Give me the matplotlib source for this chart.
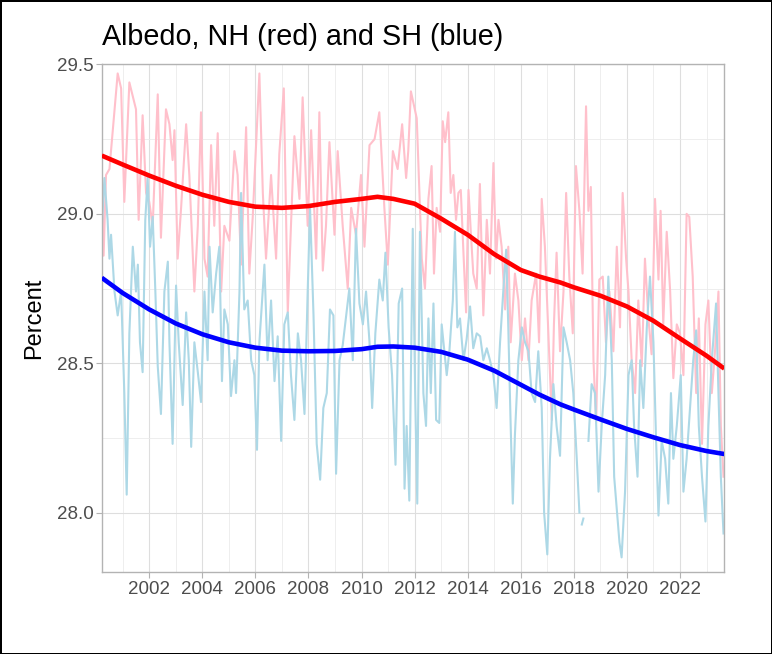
import numpy as np
import matplotlib
matplotlib.use("Agg")
import matplotlib.pyplot as plt
from matplotlib.ticker import MultipleLocator

plt.rcParams['font.family'] = ['Liberation Sans', 'DejaVu Sans']

# Northern hemisphere, noisy series (year, percent)
nh_year = [2000.21, 2000.28, 2000.37, 2000.50, 2000.81, 2000.94, 2001.06, 2001.25, 2001.50, 2001.60,
           2001.75, 2001.88, 2002.00, 2002.13, 2002.32, 2002.44, 2002.63, 2002.76, 2002.88, 2002.95,
           2003.07, 2003.20, 2003.39, 2003.51, 2003.70, 2003.83, 2003.95, 2004.08, 2004.20, 2004.33,
           2004.45, 2004.58, 2004.71, 2004.83, 2005.02, 2005.21, 2005.33, 2005.46, 2005.65, 2005.77,
           2005.90, 2006.15, 2006.28, 2006.40, 2006.59, 2006.78, 2006.90, 2007.07, 2007.22, 2007.34,
           2007.47, 2007.66, 2007.78, 2007.97, 2008.10, 2008.29, 2008.41, 2008.54, 2008.66, 2008.79,
           2008.98, 2009.10, 2009.29, 2009.48, 2009.61, 2009.79, 2009.98, 2010.11, 2010.30, 2010.49,
           2010.67, 2010.86, 2010.99, 2011.18, 2011.36, 2011.53, 2011.68, 2011.76, 2011.86, 2012.08,
           2012.27, 2012.39, 2012.52, 2012.64, 2012.73, 2012.83, 2012.96, 2013.06, 2013.15, 2013.27,
           2013.36, 2013.46, 2013.56, 2013.65, 2013.74, 2013.84, 2013.94, 2014.03, 2014.13, 2014.21,
           2014.34, 2014.46, 2014.59, 2014.72, 2014.84, 2014.97, 2015.07, 2015.16, 2015.28, 2015.41,
           2015.53, 2015.62, 2015.78, 2015.91, 2016.04, 2016.16, 2016.29, 2016.41, 2016.58, 2016.69,
           2016.79, 2016.91, 2017.04, 2017.17, 2017.25, 2017.35, 2017.48, 2017.61, 2017.71, 2017.83,
           2017.96, 2018.08, 2018.21, 2018.33, 2018.46, 2018.55, 2018.64, 2018.74, 2018.84, 2018.96,
           2019.09, 2019.21, 2019.34, 2019.49, 2019.62, 2019.74, 2019.84, 2019.97, 2020.06, 2020.18,
           2020.31, 2020.43, 2020.56, 2020.68, 2020.81, 2020.93, 2021.06, 2021.19, 2021.27, 2021.37,
           2021.50, 2021.63, 2021.75, 2021.88, 2022.00, 2022.13, 2022.25, 2022.35, 2022.48, 2022.61,
           2022.71, 2022.83, 2022.96, 2023.07, 2023.20, 2023.32, 2023.45, 2023.54, 2023.64]
nh_val = [29.10, 28.86, 29.13, 29.15, 29.47, 29.42, 29.04, 29.44, 29.35, 28.98,
          29.33, 29.07, 29.04, 28.96, 29.40, 28.92, 29.35, 29.30, 29.18, 29.28,
          28.85, 29.02, 29.30, 29.13, 28.74, 28.96, 29.34, 28.85, 28.79, 29.23,
          28.96, 29.27, 28.74, 28.96, 28.91, 29.21, 29.13, 28.83, 29.29, 28.80,
          28.99, 29.47, 29.07, 28.85, 29.13, 28.85, 29.20, 29.42, 28.67, 28.96,
          29.26, 29.05, 29.39, 28.96, 29.28, 28.85, 29.34, 28.81, 28.96, 29.24,
          28.93, 29.21, 28.96, 28.75, 29.02, 28.93, 29.13, 28.89, 29.23, 29.25,
          29.34, 29.02, 28.83, 29.21, 29.15, 29.30, 29.12, 29.21, 29.41, 29.32,
          28.85, 28.75, 29.05, 29.16, 28.80, 29.02, 28.94, 29.31, 29.24, 29.34,
          29.07, 29.13, 28.98, 29.07, 29.08, 28.87, 28.67, 29.08, 28.92, 28.80,
          28.75, 29.10, 28.66, 28.98, 28.80, 29.17, 28.85, 28.98, 28.89, 28.68,
          28.89, 28.57, 28.80, 28.71, 28.51, 28.65, 28.51, 28.71, 28.80, 28.57,
          29.05, 28.89, 28.60, 28.31, 28.63, 28.87, 28.54, 28.74, 29.07, 28.79,
          28.60, 29.16, 29.01, 28.80, 29.36, 29.01, 29.09, 28.51, 28.30, 28.78,
          28.79, 28.57, 28.74, 28.54, 28.89, 28.62, 29.07, 28.85, 28.74, 28.51,
          28.40, 28.71, 28.49, 28.85, 28.65, 28.53, 29.05, 28.78, 29.01, 28.63,
          28.94, 28.74, 28.45, 28.63, 28.60, 28.46, 29.00, 28.99, 28.79, 28.40,
          28.65, 28.23, 28.63, 28.71, 28.40, 28.54, 28.74, 28.29, 28.12]

# Southern hemisphere, noisy series (gap in 2018 marked with nan)
sh_year = [2000.21, 2000.31, 2000.43, 2000.50, 2000.56, 2000.69, 2000.81, 2000.94, 2001.06, 2001.15,
           2001.25, 2001.38, 2001.50, 2001.57, 2001.65, 2001.75, 2001.85, 2001.94, 2002.03, 2002.13,
           2002.23, 2002.32, 2002.44, 2002.57, 2002.70, 2002.76, 2002.88, 2003.01, 2003.11, 2003.26,
           2003.39, 2003.49, 2003.58, 2003.70, 2003.83, 2003.95, 2004.08, 2004.20, 2004.27, 2004.39,
           2004.52, 2004.64, 2004.74, 2004.83, 2004.96, 2005.08, 2005.21, 2005.27, 2005.40, 2005.46,
           2005.58, 2005.71, 2005.84, 2005.96, 2006.06, 2006.15, 2006.34, 2006.46, 2006.59, 2006.72,
           2006.84, 2006.97, 2007.09, 2007.22, 2007.34, 2007.47, 2007.60, 2007.72, 2007.85, 2007.97,
           2008.06, 2008.19, 2008.31, 2008.44, 2008.56, 2008.69, 2008.81, 2008.94, 2009.04, 2009.17,
           2009.29, 2009.42, 2009.54, 2009.67, 2009.79, 2009.92, 2010.05, 2010.17, 2010.30, 2010.40,
           2010.52, 2010.67, 2010.80, 2010.90, 2011.02, 2011.15, 2011.28, 2011.40, 2011.53, 2011.62,
           2011.70, 2011.80, 2011.93, 2012.02, 2012.10, 2012.20, 2012.33, 2012.43, 2012.52, 2012.61,
           2012.71, 2012.81, 2012.93, 2013.02, 2013.11, 2013.21, 2013.31, 2013.44, 2013.52, 2013.61,
           2013.71, 2013.84, 2013.96, 2014.09, 2014.21, 2014.34, 2014.47, 2014.59, 2014.72, 2014.84,
           2014.97, 2015.09, 2015.22, 2015.34, 2015.45, 2015.53, 2015.62, 2015.70, 2015.78, 2015.91,
           2016.04, 2016.16, 2016.29, 2016.41, 2016.54, 2016.66, 2016.79, 2016.88, 2017.00, 2017.10,
           2017.23, 2017.35, 2017.48, 2017.61, 2017.73, 2017.86, 2017.98, 2018.11, 2018.21, 2018.25,
           2018.30, 2018.36, 2018.45, 2018.55, 2018.67, 2018.80, 2018.93, 2019.05, 2019.18, 2019.30,
           2019.43, 2019.52, 2019.62, 2019.72, 2019.80, 2019.93, 2020.06, 2020.18, 2020.27, 2020.40,
           2020.50, 2020.62, 2020.75, 2020.87, 2021.00, 2021.10, 2021.19, 2021.31, 2021.44, 2021.56,
           2021.66, 2021.75, 2021.88, 2022.03, 2022.13, 2022.25, 2022.38, 2022.50, 2022.61, 2022.71,
           2022.83, 2022.96, 2023.07, 2023.20, 2023.36, 2023.45, 2023.54, 2023.64]
sh_val = [28.95, 29.12, 28.98, 28.85, 28.93, 28.74, 28.66, 28.74, 28.40, 28.06,
          28.60, 28.89, 28.74, 28.83, 28.57, 28.47, 28.98, 29.12, 28.89, 28.99,
          28.74, 28.49, 28.33, 28.74, 28.84, 28.57, 28.23, 28.76, 28.57, 28.36,
          28.67, 28.51, 28.22, 28.57, 28.47, 28.37, 28.74, 28.51, 28.89, 28.67,
          28.80, 28.89, 28.44, 28.68, 28.63, 28.39, 28.51, 28.40, 28.74, 29.07,
          28.68, 28.71, 28.51, 28.46, 28.21, 28.57, 28.83, 28.51, 28.71, 28.44,
          28.59, 28.24, 28.63, 28.67, 28.46, 28.31, 28.60, 28.51, 28.33, 28.74,
          29.02, 28.66, 28.23, 28.11, 28.35, 28.40, 28.68, 28.66, 28.13, 28.51,
          28.56, 28.66, 28.75, 28.51, 28.95, 28.70, 28.63, 28.74, 28.57, 28.35,
          28.60, 28.78, 28.71, 28.87, 28.62, 28.46, 28.16, 28.70, 28.75, 28.08,
          28.29, 28.04, 28.95, 28.40, 28.03, 28.94, 28.40, 28.29, 28.65, 28.40,
          28.70, 28.31, 28.30, 28.63, 28.55, 28.46, 28.54, 28.71, 28.94, 28.62,
          28.65, 28.51, 28.58, 28.69, 28.55, 28.60, 28.59, 28.51, 28.55, 28.51,
          28.46, 28.35, 28.57, 28.74, 28.88, 28.62, 28.29, 28.03, 28.26, 28.51,
          28.62, 28.57, 28.54, 28.40, 28.37, 28.54, 28.35, 28.00, 27.86, 28.18,
          28.43, 28.29, 28.19, 28.62, 28.57, 28.51, 28.40, 28.18, 28.00, np.nan,
          27.96, 27.98, np.nan, 28.24, 28.43, 28.40, 28.07, 28.29, 28.46, 28.79,
          28.51, 28.12, 28.01, 27.90, 27.85, 28.07, 28.46, 28.51, 28.29, 28.12,
          28.51, 28.35, 28.62, 28.79, 28.57, 28.24, 27.99, 28.24, 28.18, 28.03,
          28.40, 28.18, 28.29, 28.46, 28.07, 28.18, 28.35, 28.51, 28.61, 28.29,
          28.12, 27.97, 28.29, 28.51, 28.70, 28.40, 28.12, 27.93]

# smoothed trend lines
smooth_year = [2000.21, 2001.0, 2002.0, 2003.0, 2004.0, 2005.0, 2006.0, 2007.0, 2008.0, 2009.0,
               2010.0, 2010.6, 2011.2, 2012.0, 2013.0, 2014.0, 2015.0, 2016.0, 2016.7, 2017.5,
               2018.0, 2019.0, 2020.0, 2021.0, 2022.0, 2023.0, 2023.67]
nh_smooth = [29.195, 29.165, 29.128, 29.094, 29.064, 29.040, 29.024, 29.020, 29.026, 29.040,
             29.050, 29.057, 29.050, 29.034, 28.984, 28.930, 28.865, 28.812, 28.790, 28.770,
             28.754, 28.726, 28.690, 28.642, 28.583, 28.525, 28.482]
sh_smooth = [28.786, 28.735, 28.680, 28.633, 28.597, 28.570, 28.552, 28.542, 28.540, 28.541,
             28.547, 28.555, 28.556, 28.552, 28.538, 28.512, 28.475, 28.428, 28.395, 28.362,
             28.345, 28.312, 28.280, 28.252, 28.226, 28.206, 28.196]

fig = plt.figure(figsize=(7.72, 6.54), dpi=100)
fig.patch.set_edgecolor('black')
fig.patch.set_linewidth(2)
ax = fig.add_axes([0.1325, 0.1249, 0.8057, 0.7765])

ax.plot(nh_year, nh_val, color='pink', lw=1.5, zorder=2, solid_joinstyle='round')
ax.plot(sh_year, sh_val, color='lightblue', lw=1.5, zorder=2, solid_joinstyle='round')
ax.plot(smooth_year, nh_smooth, color='red', lw=3.3, zorder=3, solid_capstyle='butt')
ax.plot(smooth_year, sh_smooth, color='blue', lw=3.3, zorder=3, solid_capstyle='butt')

ax.set_xlim(2000.23, 2023.67)
ax.set_ylim(27.80, 29.50)
ax.set_xticks(range(2002, 2023, 2))
ax.xaxis.set_minor_locator(MultipleLocator(1))
ax.set_yticks([28.0, 28.5, 29.0, 29.5])
ax.set_yticklabels(['28.0', '28.5', '29.0', '29.5'])
ax.yaxis.set_minor_locator(MultipleLocator(0.25))

ax.grid(which='major', color='#DEDEDE', lw=0.8)
ax.grid(which='minor', color='#EBEBEB', lw=0.6)
ax.set_axisbelow(True)
for s in ax.spines.values():
    s.set_color('#B3B3B3')
    s.set_linewidth(1.0)
ax.tick_params(which='major', length=4.5, width=0.8, color='#B3B3B3',
               labelcolor='#4D4D4D', labelsize=13.5, pad=2)
ax.tick_params(which='minor', length=0)

ax.set_ylabel('Percent', fontsize=17, color='black', labelpad=8)
fig.text(0.1325, 0.9312, 'Albedo, NH (red) and SH (blue)', fontsize=20.7,
         ha='left', va='baseline', color='black')

fig.savefig('out.png', dpi=100, edgecolor=fig.get_edgecolor())
